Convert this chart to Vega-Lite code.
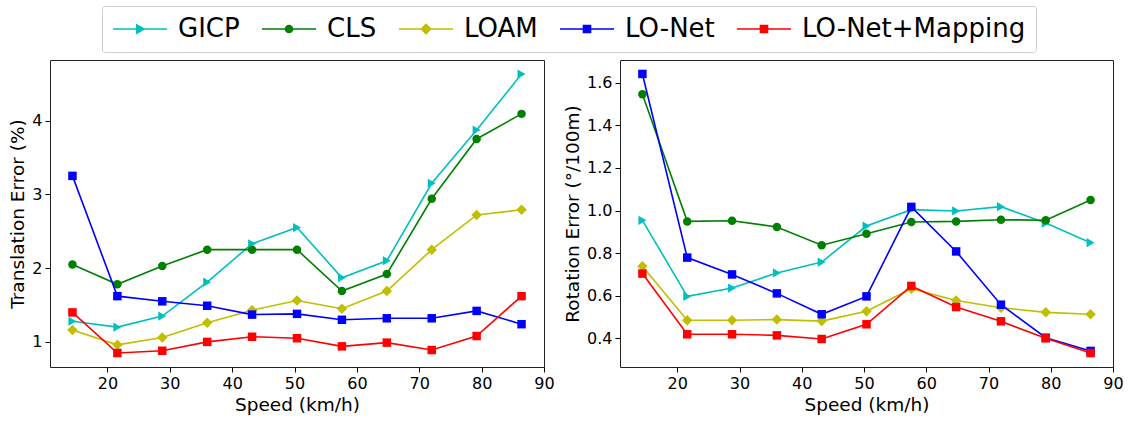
{
  "$schema": "https://vega.github.io/schema/vega-lite/v6.json",
  "background": "white",
  "padding": {"left": 8, "top": 5, "right": 5, "bottom": 5},
  "datasets": {
    "trans": [
      {"method": "GICP", "speed": 14.4, "err": 1.28}, {"method": "GICP", "speed": 21.6, "err": 1.20}, {"method": "GICP", "speed": 28.8, "err": 1.35}, {"method": "GICP", "speed": 36, "err": 1.81}, {"method": "GICP", "speed": 43.2, "err": 2.33}, {"method": "GICP", "speed": 50.4, "err": 2.55}, {"method": "GICP", "speed": 57.6, "err": 1.87}, {"method": "GICP", "speed": 64.8, "err": 2.10}, {"method": "GICP", "speed": 72, "err": 3.15}, {"method": "GICP", "speed": 79.2, "err": 3.87}, {"method": "GICP", "speed": 86.4, "err": 4.63},
      {"method": "CLS", "speed": 14.4, "err": 2.05}, {"method": "CLS", "speed": 21.6, "err": 1.78}, {"method": "CLS", "speed": 28.8, "err": 2.03}, {"method": "CLS", "speed": 36, "err": 2.25}, {"method": "CLS", "speed": 43.2, "err": 2.25}, {"method": "CLS", "speed": 50.4, "err": 2.25}, {"method": "CLS", "speed": 57.6, "err": 1.69}, {"method": "CLS", "speed": 64.8, "err": 1.92}, {"method": "CLS", "speed": 72, "err": 2.94}, {"method": "CLS", "speed": 79.2, "err": 3.75}, {"method": "CLS", "speed": 86.4, "err": 4.09},
      {"method": "LOAM", "speed": 14.4, "err": 1.16}, {"method": "LOAM", "speed": 21.6, "err": 0.96}, {"method": "LOAM", "speed": 28.8, "err": 1.06}, {"method": "LOAM", "speed": 36, "err": 1.26}, {"method": "LOAM", "speed": 43.2, "err": 1.43}, {"method": "LOAM", "speed": 50.4, "err": 1.56}, {"method": "LOAM", "speed": 57.6, "err": 1.45}, {"method": "LOAM", "speed": 64.8, "err": 1.69}, {"method": "LOAM", "speed": 72, "err": 2.25}, {"method": "LOAM", "speed": 79.2, "err": 2.72}, {"method": "LOAM", "speed": 86.4, "err": 2.79},
      {"method": "LO-Net", "speed": 14.4, "err": 3.25}, {"method": "LO-Net", "speed": 21.6, "err": 1.62}, {"method": "LO-Net", "speed": 28.8, "err": 1.55}, {"method": "LO-Net", "speed": 36, "err": 1.49}, {"method": "LO-Net", "speed": 43.2, "err": 1.37}, {"method": "LO-Net", "speed": 50.4, "err": 1.38}, {"method": "LO-Net", "speed": 57.6, "err": 1.30}, {"method": "LO-Net", "speed": 64.8, "err": 1.32}, {"method": "LO-Net", "speed": 72, "err": 1.32}, {"method": "LO-Net", "speed": 79.2, "err": 1.42}, {"method": "LO-Net", "speed": 86.4, "err": 1.24},
      {"method": "LO-Net+Mapping", "speed": 14.4, "err": 1.40}, {"method": "LO-Net+Mapping", "speed": 21.6, "err": 0.85}, {"method": "LO-Net+Mapping", "speed": 28.8, "err": 0.88}, {"method": "LO-Net+Mapping", "speed": 36, "err": 1.00}, {"method": "LO-Net+Mapping", "speed": 43.2, "err": 1.07}, {"method": "LO-Net+Mapping", "speed": 50.4, "err": 1.05}, {"method": "LO-Net+Mapping", "speed": 57.6, "err": 0.94}, {"method": "LO-Net+Mapping", "speed": 64.8, "err": 0.99}, {"method": "LO-Net+Mapping", "speed": 72, "err": 0.89}, {"method": "LO-Net+Mapping", "speed": 79.2, "err": 1.08}, {"method": "LO-Net+Mapping", "speed": 86.4, "err": 1.62}
    ],
    "rot": [
      {"method": "GICP", "speed": 14.4, "err": 0.954}, {"method": "GICP", "speed": 21.6, "err": 0.597}, {"method": "GICP", "speed": 28.8, "err": 0.636}, {"method": "GICP", "speed": 36, "err": 0.707}, {"method": "GICP", "speed": 43.2, "err": 0.758}, {"method": "GICP", "speed": 50.4, "err": 0.927}, {"method": "GICP", "speed": 57.6, "err": 1.004}, {"method": "GICP", "speed": 64.8, "err": 0.998}, {"method": "GICP", "speed": 72, "err": 1.018}, {"method": "GICP", "speed": 79.2, "err": 0.941}, {"method": "GICP", "speed": 86.4, "err": 0.849},
      {"method": "CLS", "speed": 14.4, "err": 1.546}, {"method": "CLS", "speed": 21.6, "err": 0.949}, {"method": "CLS", "speed": 28.8, "err": 0.952}, {"method": "CLS", "speed": 36, "err": 0.923}, {"method": "CLS", "speed": 43.2, "err": 0.837}, {"method": "CLS", "speed": 50.4, "err": 0.891}, {"method": "CLS", "speed": 57.6, "err": 0.946}, {"method": "CLS", "speed": 64.8, "err": 0.949}, {"method": "CLS", "speed": 72, "err": 0.957}, {"method": "CLS", "speed": 79.2, "err": 0.954}, {"method": "CLS", "speed": 86.4, "err": 1.049},
      {"method": "LOAM", "speed": 14.4, "err": 0.738}, {"method": "LOAM", "speed": 21.6, "err": 0.485}, {"method": "LOAM", "speed": 28.8, "err": 0.485}, {"method": "LOAM", "speed": 36, "err": 0.488}, {"method": "LOAM", "speed": 43.2, "err": 0.481}, {"method": "LOAM", "speed": 50.4, "err": 0.527}, {"method": "LOAM", "speed": 57.6, "err": 0.633}, {"method": "LOAM", "speed": 64.8, "err": 0.578}, {"method": "LOAM", "speed": 72, "err": 0.544}, {"method": "LOAM", "speed": 79.2, "err": 0.522}, {"method": "LOAM", "speed": 86.4, "err": 0.513},
      {"method": "LO-Net", "speed": 14.4, "err": 1.641}, {"method": "LO-Net", "speed": 21.6, "err": 0.779}, {"method": "LO-Net", "speed": 28.8, "err": 0.700}, {"method": "LO-Net", "speed": 36, "err": 0.611}, {"method": "LO-Net", "speed": 43.2, "err": 0.513}, {"method": "LO-Net", "speed": 50.4, "err": 0.597}, {"method": "LO-Net", "speed": 57.6, "err": 1.017}, {"method": "LO-Net", "speed": 64.8, "err": 0.808}, {"method": "LO-Net", "speed": 72, "err": 0.558}, {"method": "LO-Net", "speed": 79.2, "err": 0.403}, {"method": "LO-Net", "speed": 86.4, "err": 0.341},
      {"method": "LO-Net+Mapping", "speed": 14.4, "err": 0.704}, {"method": "LO-Net+Mapping", "speed": 21.6, "err": 0.419}, {"method": "LO-Net+Mapping", "speed": 28.8, "err": 0.419}, {"method": "LO-Net+Mapping", "speed": 36, "err": 0.414}, {"method": "LO-Net+Mapping", "speed": 43.2, "err": 0.397}, {"method": "LO-Net+Mapping", "speed": 50.4, "err": 0.466}, {"method": "LO-Net+Mapping", "speed": 57.6, "err": 0.646}, {"method": "LO-Net+Mapping", "speed": 64.8, "err": 0.547}, {"method": "LO-Net+Mapping", "speed": 72, "err": 0.480}, {"method": "LO-Net+Mapping", "speed": 79.2, "err": 0.400}, {"method": "LO-Net+Mapping", "speed": 86.4, "err": 0.331}
    ]
  },
  "hconcat": [
    {
      "width": 494,
      "height": 307,
      "data": {"name": "trans"},
      "encoding": {
        "x": {"field": "speed", "type": "quantitative", "scale": {"domain": [10.8, 90], "nice": false, "zero": false}, "axis": {"title": "Speed (km/h)", "values": [20, 30, 40, 50, 60, 70, 80, 90]}},
        "y": {"field": "err", "type": "quantitative", "scale": {"domain": [0.66, 4.82], "nice": false, "zero": false}, "axis": {"title": "Translation Error (%)", "values": [1, 2, 3, 4]}}
      },
      "layer": [
        {
          "mark": {"type": "point", "filled": true, "opacity": 0},
          "encoding": {
            "fill": {"field": "method", "type": "nominal", "scale": {"domain": ["GICP", "CLS", "LOAM", "LO-Net", "LO-Net+Mapping"], "range": ["#00bfbf", "#008000", "#bfbf00", "#0000ff", "#ff0000"]}, "legend": {"title": null, "orient": "none", "legendX": 52, "legendY": -54, "direction": "horizontal", "columns": 5, "clipHeight": 26}},
            "stroke": {"field": "method", "type": "nominal", "scale": {"domain": ["GICP", "CLS", "LOAM", "LO-Net", "LO-Net+Mapping"], "range": ["#00bfbf", "#008000", "#bfbf00", "#0000ff", "#ff0000"]}, "legend": {"title": null, "orient": "none", "legendX": 52, "legendY": -54, "direction": "horizontal", "columns": 5, "clipHeight": 26}},
            "shape": {"field": "method", "type": "nominal", "scale": {"domain": ["GICP", "CLS", "LOAM", "LO-Net", "LO-Net+Mapping"], "range": [
              "M-1,0H1M-0.12,-0.15L0.15,0L-0.12,0.15Z",
              "M-1,0H1M0.13,0A0.13,0.13,0,1,1,-0.13,0A0.13,0.13,0,1,1,0.13,0Z",
              "M-1,0H1M0,-0.17L0.17,0L0,0.17L-0.17,0Z",
              "M-1,0H1M-0.13,-0.13H0.13V0.13H-0.13Z",
              "M-1,0H1M-0.13,-0.13H0.13V0.13H-0.13Z"
            ]}, "legend": {"title": null, "orient": "none", "legendX": 52, "legendY": -54, "direction": "horizontal", "columns": 5, "clipHeight": 26}}
          }
        },
        {
          "encoding": {"color": {"field": "method", "type": "nominal", "scale": {"domain": ["GICP", "CLS", "LOAM", "LO-Net", "LO-Net+Mapping"], "range": ["#00bfbf", "#008000", "#bfbf00", "#0000ff", "#ff0000"]}, "legend": null}},
          "layer": [
            {"transform": [{"filter": "datum.method === 'GICP'"}], "mark": {"type": "line", "strokeWidth": 1.6}},
            {"transform": [{"filter": "datum.method === 'GICP'"}], "mark": {"type": "point", "filled": true, "opacity": 1, "shape": "triangle-right", "size": 85}},
            {"transform": [{"filter": "datum.method === 'CLS'"}], "mark": {"type": "line", "strokeWidth": 1.6}},
            {"transform": [{"filter": "datum.method === 'CLS'"}], "mark": {"type": "point", "filled": true, "opacity": 1, "shape": "circle", "size": 72}},
            {"transform": [{"filter": "datum.method === 'LOAM'"}], "mark": {"type": "line", "strokeWidth": 1.6}},
            {"transform": [{"filter": "datum.method === 'LOAM'"}], "mark": {"type": "point", "filled": true, "opacity": 1, "shape": "diamond", "size": 110}},
            {"transform": [{"filter": "datum.method === 'LO-Net'"}], "mark": {"type": "line", "strokeWidth": 1.6}},
            {"transform": [{"filter": "datum.method === 'LO-Net'"}], "mark": {"type": "point", "filled": true, "opacity": 1, "shape": "square", "size": 72}},
            {"transform": [{"filter": "datum.method === 'LO-Net+Mapping'"}], "mark": {"type": "line", "strokeWidth": 1.6}},
            {"transform": [{"filter": "datum.method === 'LO-Net+Mapping'"}], "mark": {"type": "point", "filled": true, "opacity": 1, "shape": "square", "size": 72}}
          ]
        }
      ]
    },
    {
      "width": 493,
      "height": 307,
      "data": {"name": "rot"},
      "encoding": {
        "x": {"field": "speed", "type": "quantitative", "scale": {"domain": [10.8, 90], "nice": false, "zero": false}, "axis": {"title": "Speed (km/h)", "values": [20, 30, 40, 50, 60, 70, 80, 90]}},
        "y": {"field": "err", "type": "quantitative", "scale": {"domain": [0.2655, 1.7065], "nice": false, "zero": false}, "axis": {"title": "Rotation Error (°/100m)", "values": [0.4, 0.6, 0.8, 1.0, 1.2, 1.4, 1.6], "format": ".1f"}},
        "color": {"field": "method", "type": "nominal", "scale": {"domain": ["GICP", "CLS", "LOAM", "LO-Net", "LO-Net+Mapping"], "range": ["#00bfbf", "#008000", "#bfbf00", "#0000ff", "#ff0000"]}, "legend": null}
      },
      "layer": [
        {"transform": [{"filter": "datum.method === 'GICP'"}], "mark": {"type": "line", "strokeWidth": 1.6}},
        {"transform": [{"filter": "datum.method === 'GICP'"}], "mark": {"type": "point", "filled": true, "opacity": 1, "shape": "triangle-right", "size": 85}},
        {"transform": [{"filter": "datum.method === 'CLS'"}], "mark": {"type": "line", "strokeWidth": 1.6}},
        {"transform": [{"filter": "datum.method === 'CLS'"}], "mark": {"type": "point", "filled": true, "opacity": 1, "shape": "circle", "size": 72}},
        {"transform": [{"filter": "datum.method === 'LOAM'"}], "mark": {"type": "line", "strokeWidth": 1.6}},
        {"transform": [{"filter": "datum.method === 'LOAM'"}], "mark": {"type": "point", "filled": true, "opacity": 1, "shape": "diamond", "size": 110}},
        {"transform": [{"filter": "datum.method === 'LO-Net'"}], "mark": {"type": "line", "strokeWidth": 1.6}},
        {"transform": [{"filter": "datum.method === 'LO-Net'"}], "mark": {"type": "point", "filled": true, "opacity": 1, "shape": "square", "size": 72}},
        {"transform": [{"filter": "datum.method === 'LO-Net+Mapping'"}], "mark": {"type": "line", "strokeWidth": 1.6}},
        {"transform": [{"filter": "datum.method === 'LO-Net+Mapping'"}], "mark": {"type": "point", "filled": true, "opacity": 1, "shape": "square", "size": 72}}
      ]
    }
  ],
  "spacing": 76,
  "bounds": "flush",
  "config": {
    "font": "DejaVu Sans",
    "view": {"stroke": "#222222", "strokeWidth": 1},
    "axis": {
      "domain": false, "grid": false, "ticks": true, "tickColor": "#000000", "tickSize": 5, "tickWidth": 1,
      "labelColor": "#000000", "labelFont": "DejaVu Sans", "labelFontSize": 16, "labelPadding": 3,
      "labelFlush": false, "labelOverlap": false,
      "titleColor": "#000000", "titleFont": "DejaVu Sans", "titleFontSize": 18.5, "titleFontWeight": "normal", "titlePadding": 4
    },
    "legend": {
      "labelFont": "DejaVu Sans", "labelFontSize": 26, "labelColor": "#000000", "labelOffset": 10, "labelLimit": 400,
      "columnPadding": 21, "symbolSize": 2916, "symbolStrokeWidth": 1.6, "symbolOpacity": 1,
      "padding": 10, "strokeColor": "#cccccc", "cornerRadius": 3, "fillColor": "#ffffff"
    }
  }
}
